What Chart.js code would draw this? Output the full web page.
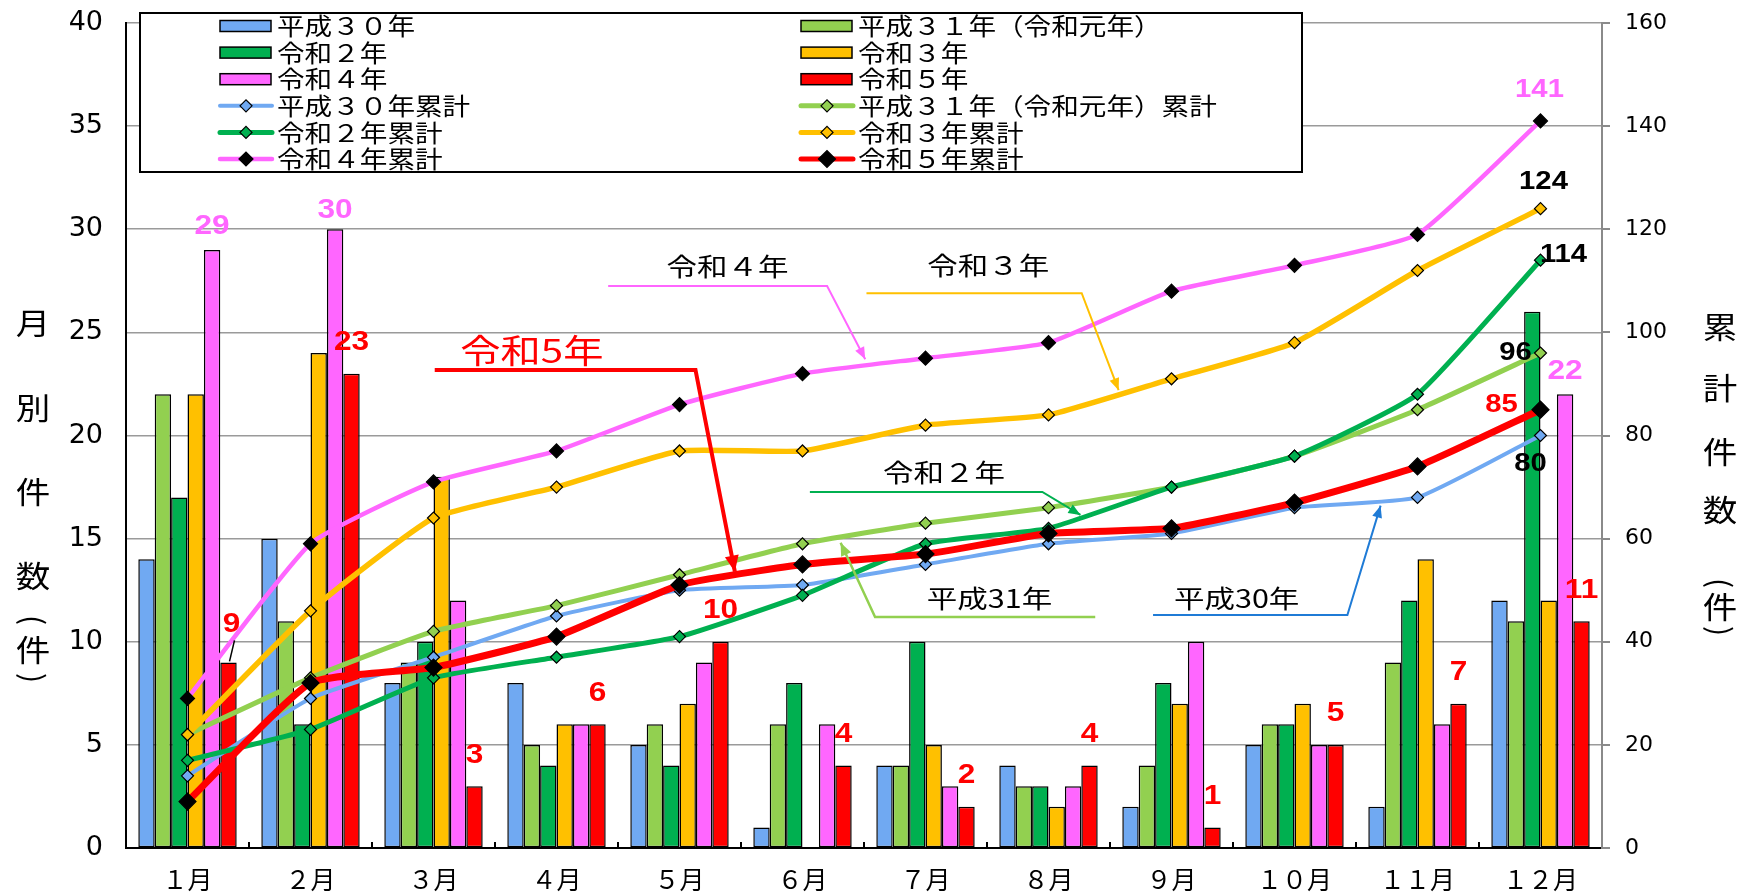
<!DOCTYPE html>
<html lang="ja">
<head>
<meta charset="utf-8">
<title>月別件数・累計件数</title>
<script src="https://cdn.jsdelivr.net/npm/chart.js@4.4.1/dist/chart.umd.min.js"></script>
<style>
  html, body { margin: 0; padding: 0; background: #fff; }
  #wrap { width: 1744px; height: 893px; position: relative; }
</style>
</head>
<body>
<div id="wrap"><canvas id="chart"></canvas></div>
<script>
/* =============================================
   月別件数（棒）と累計件数（折れ線）
   ============================================= */

const months = ['１月', '２月', '３月', '４月', '５月', '６月', '７月', '８月', '９月', '１０月', '１１月', '１２月'];

// 月別件数（左軸）
const h30 = [14, 15, 8, 8, 5, 1, 4, 4, 2, 5, 2, 12];
const h31 = [22, 11, 9, 5, 6, 6, 4, 3, 4, 6, 9, 11];
const r2  = [17, 6, 10, 4, 4, 8, 10, 3, 8, 6, 12, 26];
const r3  = [22, 24, 18, 6, 7, 0, 5, 2, 7, 7, 14, 12];
const r4  = [29, 30, 12, 6, 9, 6, 3, 3, 10, 5, 6, 22];
const r5  = [9, 23, 3, 6, 10, 4, 2, 4, 1, 5, 7, 11];

// 累計件数（右軸）
const h30Cum = [14, 29, 37, 45, 50, 51, 55, 59, 61, 66, 68, 80];
const h31Cum = [22, 33, 42, 47, 53, 59, 63, 66, 70, 76, 85, 96];
const r2Cum  = [17, 23, 33, 37, 41, 49, 59, 62, 70, 76, 88, 114];
const r3Cum  = [22, 46, 64, 70, 77, 77, 82, 84, 91, 98, 112, 124];
const r4Cum  = [29, 59, 71, 77, 86, 92, 95, 98, 108, 113, 119, 141];
const r5Cum  = [9, 32, 35, 41, 51, 55, 57, 61, 62, 67, 74, 85];

const barNames = ['平成３０年', '平成３１年（令和元年）', '令和２年', '令和３年', '令和４年', '令和５年'];
const cumNames = ['平成３０年累計', '平成３１年（令和元年）累計', '令和２年累計', '令和３年累計', '令和４年累計', '令和５年累計'];

// colours
const C = {
  h30: '#70a9f2',
  h31: '#92d050',
  r2: '#00b050',
  r3: '#ffc000',
  r4: '#ff66ff',
  r5: '#ff0000'
};

const CJK = "'Noto Sans CJK JP', 'Noto Sans CJK SC', sans-serif";
const NUM = "'Liberation Sans', Arial, sans-serif";

// callouts: position in (category index, left-axis value)
const callouts = [
  { text: '令和４年', at: [4.39, 28.2], color: C.r4, width: 2, path: [[3.42, 27.25], [5.20, 27.25], [5.51, 23.7]] },
  { text: '令和３年', at: [6.51, 28.25], color: C.r3, width: 2, path: [[5.52, 26.9], [7.27, 26.9], [7.57, 22.2]] },
  { text: '令和5年', at: [2.80, 24.1], color: C.r5, width: 4, textColor: C.r5, size: 33, path: [[2.01, 23.18], [4.13, 23.18], [4.45, 13.4]] },
  { text: '令和２年', at: [6.15, 18.2], color: C.r2, width: 2, path: [[5.06, 17.26], [6.95, 17.26], [7.26, 16.15]] },
  { text: '平成31年', at: [6.52, 12.12], color: C.h31, width: 2.5, path: [[7.38, 11.2], [5.59, 11.2], [5.31, 14.8]] },
  { text: '平成30年', at: [8.53, 12.12], color: '#1f7bd6', width: 2, path: [[7.85, 11.3], [9.43, 11.3], [9.70, 16.6]] }
];

// ---------- helpers ----------
function drawText(ctx, str, x, y, o) {
  ctx.save();
  ctx.font = o.font;
  ctx.fillStyle = o.color || '#000';
  ctx.textAlign = o.align || 'center';
  ctx.textBaseline = 'middle';
  ctx.translate(x, y);
  ctx.scale(o.sx || 1, 1);
  if (o.rotate) ctx.rotate(o.rotate);
  ctx.fillText(str, 0, 0);
  ctx.restore();
}

function diamond(ctx, x, y, r, fill) {
  ctx.beginPath();
  ctx.moveTo(x - r, y);
  ctx.lineTo(x, y - r);
  ctx.lineTo(x + r, y);
  ctx.lineTo(x, y + r);
  ctx.closePath();
  ctx.fillStyle = fill;
  ctx.fill();
  ctx.strokeStyle = '#000';
  ctx.lineWidth = 1.2;
  ctx.stroke();
}

function arrow(ctx, pts, color, width) {
  ctx.save();
  ctx.strokeStyle = color;
  ctx.fillStyle = color;
  ctx.lineWidth = width;
  ctx.lineJoin = 'miter';
  ctx.beginPath();
  pts.forEach((p, i) => i ? ctx.lineTo(p[0], p[1]) : ctx.moveTo(p[0], p[1]));
  ctx.stroke();
  const [x1, y1] = pts[pts.length - 2];
  const [x2, y2] = pts[pts.length - 1];
  const a = Math.atan2(y2 - y1, x2 - x1);
  const len = 8 + width * 2, hw = 3 + width;
  ctx.beginPath();
  ctx.moveTo(x2, y2);
  ctx.lineTo(x2 - len * Math.cos(a) + hw * Math.sin(a), y2 - len * Math.sin(a) - hw * Math.cos(a));
  ctx.lineTo(x2 - len * Math.cos(a) - hw * Math.sin(a), y2 - len * Math.sin(a) + hw * Math.cos(a));
  ctx.closePath();
  ctx.fill();
  ctx.restore();
}

// ---------- plugins ----------
const boxLegend = {
  id: 'boxLegend',
  afterDatasetsDraw(chart) {
    const { ctx, chartArea } = chart;
    const left = chartArea.left + 14, top = chartArea.top - 10;
    const right = chartArea.right - 300, bottom = top + 159;
    ctx.save();
    ctx.fillStyle = '#fff';
    ctx.fillRect(left, top, right - left, bottom - top);
    ctx.strokeStyle = '#000';
    ctx.lineWidth = 2;
    ctx.strokeRect(left, top, right - left, bottom - top);
    chart.data.datasets.forEach((ds, i) => {
      const col = i % 2, row = Math.floor(i / 2);
      const sx = col === 0 ? left + 80 : left + 661;
      const cy = top + 13 + row * 26.6;
      if (ds.type === 'bar') {
        ctx.fillStyle = ds.backgroundColor;
        ctx.fillRect(sx, cy - 5.5, 51, 11);
        ctx.strokeStyle = '#000';
        ctx.lineWidth = 1.5;
        ctx.strokeRect(sx, cy - 5.5, 51, 11);
      } else {
        ctx.strokeStyle = ds.borderColor;
        ctx.lineWidth = Math.min(ds.borderWidth, 5);
        ctx.lineCap = 'round';
        ctx.beginPath();
        ctx.moveTo(sx, cy);
        ctx.lineTo(sx + 52, cy);
        ctx.stroke();
        diamond(ctx, sx + 26, cy, ds.pointRadius, ds.pointBackgroundColor);
      }
      drawText(ctx, ds.label, sx + 57, cy, { font: `24px ${CJK}`, align: 'left', sx: 1.15 });
    });
    ctx.restore();
  }
};

const valueLabels = {
  id: 'valueLabels',
  afterDatasetsDraw(chart) {
    const { ctx } = chart;
    chart.data.datasets.forEach((ds, i) => {
      if (!ds.valueLabels) return;
      const meta = chart.getDatasetMeta(i);
      ds.valueLabels.forEach(l => {
        const el = meta.data[l.index];
        const tx = el.x + (l.dx || 0), ty = el.y + l.dy;
        if (l.leader) {
          ctx.save();
          ctx.strokeStyle = '#000';
          ctx.lineWidth = 1.5;
          ctx.beginPath();
          ctx.moveTo(tx + 3, ty + 16);
          ctx.lineTo(el.x + 1, el.y - 1);
          ctx.stroke();
          ctx.restore();
        }
        drawText(ctx, String(ds.data[l.index]), tx, ty, {
          font: `bold ${l.size || 27}px ${NUM}`, color: l.color || ds.labelColor, sx: 1.17
        });
      });
    });
  }
};

const calloutPlugin = {
  id: 'callouts',
  afterDatasetsDraw(chart) {
    const { ctx, scales } = chart;
    const px = p => [scales.x.getPixelForValue(p[0]), scales.y.getPixelForValue(p[1])];
    callouts.forEach(c => {
      arrow(ctx, c.path.map(px), c.color, c.width);
      const [tx, ty] = px(c.at);
      drawText(ctx, c.text, tx, ty, { font: `${c.size || 25}px ${CJK}`, color: c.textColor || '#000', sx: 1.22 });
    });
  }
};

const axisDecor = {
  id: 'axisDecor',
  afterDraw(chart) {
    const { ctx, chartArea, scales } = chart;
    // ticks between months, pointing up
    ctx.save();
    ctx.strokeStyle = '#000';
    ctx.lineWidth = 2;
    for (let i = 1; i < months.length; i++) {
      const bx = (scales.x.getPixelForValue(i - 1) + scales.x.getPixelForValue(i)) / 2;
      ctx.beginPath();
      ctx.moveTo(bx, chartArea.bottom);
      ctx.lineTo(bx, chartArea.bottom - 6);
      ctx.stroke();
    }
    ctx.restore();

    // vertical axis titles
    const leftTitle = [['月', 323], ['別', 408], ['件', 492], ['数', 576], ['(', 620, 1], ['件', 650], [')', 678, 1]];
    const rightTitle = [['累', 327], ['計', 388], ['件', 452], ['数', 510], ['(', 583, 1], ['件', 607], [')', 631, 1]];
    const put = (list, x) => list.forEach(([ch, y, rot]) => {
      drawText(ctx, ch, x, y, { font: `30px ${CJK}`, sx: rot ? 1 : 1.15, rotate: rot ? Math.PI / 2 : 0 });
    });
    put(leftTitle, 33);
    put(rightTitle, 1720);
  }
};

// ---------- chart ----------
function buildChart() {
  Chart.defaults.font.family = CJK;
  Chart.defaults.color = '#000';

  const redLabels = months.map((m, i) => i === 0 ? { index: i, dy: -38, dx: 3, leader: true } : { index: i, dy: -31 });

  const bar = (label, data, color, extra) => Object.assign({
    type: 'bar',
    label,
    data,
    yAxisID: 'y',
    backgroundColor: color,
    borderColor: '#000',
    borderWidth: 1.5,
    borderSkipped: false,
    categoryPercentage: 0.8,
    barPercentage: 1.0,
    order: 20
  }, extra || {});

  const line = (label, data, color, width, pr, pfill, order, extra) => Object.assign({
    type: 'line',
    label,
    data,
    yAxisID: 'y2',
    borderColor: color,
    borderWidth: width,
    pointStyle: 'rectRot',
    pointRadius: pr,
    pointBackgroundColor: pfill,
    pointBorderColor: '#000',
    pointBorderWidth: 1.2,
    tension: 0.15,
    fill: false,
    order
  }, extra || {});

  new Chart(document.getElementById('chart'), {
    type: 'bar',
    data: {
      labels: months,
      datasets: [
        bar(barNames[0], h30, C.h30),
        bar(barNames[1], h31, C.h31),
        bar(barNames[2], r2, C.r2),
        bar(barNames[3], r3, C.r3),
        bar(barNames[4], r4, C.r4, {
          labelColor: C.r4,
          valueLabels: [{ index: 0, dy: -23 }, { index: 1, dy: -19 }, { index: 11, dy: -23 }]
        }),
        bar(barNames[5], r5, C.r5, { labelColor: C.r5, valueLabels: redLabels }),
        line(cumNames[0], h30Cum, C.h30, 4, 6, C.h30, 6,
          { valueLabels: [{ index: 11, dx: -10, dy: 29, size: 25, color: '#000' }] }),
        line(cumNames[1], h31Cum, C.h31, 5, 6, C.h31, 5,
          { valueLabels: [{ index: 11, dx: -25, dy: 0, size: 25, color: '#000' }] }),
        line(cumNames[2], r2Cum, C.r2, 5, 6, C.r2, 4,
          { valueLabels: [{ index: 11, dx: 23, dy: -5, size: 25, color: '#000' }] }),
        line(cumNames[3], r3Cum, C.r3, 5.5, 6, C.r3, 3,
          { valueLabels: [{ index: 11, dx: 3, dy: -27, size: 25, color: '#000' }] }),
        line(cumNames[4], r4Cum, C.r4, 4.5, 7, '#000', 2,
          { valueLabels: [{ index: 11, dx: -1, dy: -31, size: 25, color: C.r4 }] }),
        line(cumNames[5], r5Cum, C.r5, 7, 8.5, '#000', 1,
          { valueLabels: [{ index: 11, dx: -39, dy: -5, size: 25, color: C.r5 }] })
      ]
    },
    options: {
      responsive: true,
      maintainAspectRatio: false,
      animation: false,
      layout: { padding: { top: 23, left: 0, right: 0, bottom: 0 } },
      plugins: {
        legend: { display: false },
        tooltip: { enabled: false }
      },
      scales: {
        x: {
          offset: true,
          grid: { display: false, drawTicks: false },
          border: { display: true, color: '#000', width: 2 },
          ticks: { font: { family: CJK, size: 25 }, color: '#000', padding: 16, maxRotation: 0 },
          afterFit(s) { s.height = 45; }
        },
        y: {
          position: 'left',
          min: 0,
          max: 40,
          ticks: { stepSize: 5, font: { family: "'DejaVu Sans', sans-serif", size: 27 }, color: '#000', padding: 23 },
          grid: {
            color: ctx => ctx.tick && ctx.tick.value === 0 ? 'rgba(0,0,0,0)' : '#9a9a9a',
            lineWidth: 1.6,
            drawTicks: false
          },
          border: { display: true, color: '#000', width: 2 },
          afterFit(s) { s.width = 126; s.paddingTop = 0; s.paddingBottom = 0; }
        },
        y2: {
          position: 'right',
          min: 0,
          max: 160,
          ticks: { stepSize: 20, font: { family: "'DejaVu Sans', sans-serif", size: 22 }, color: '#000', padding: 15 },
          grid: { drawOnChartArea: false, drawTicks: true, tickLength: 8, color: '#8a8a8a', lineWidth: 2 },
          border: { display: true, color: '#8a8a8a', width: 2 },
          afterFit(s) { s.width = 142; s.paddingTop = 0; s.paddingBottom = 0; }
        }
      }
    },
    plugins: [valueLabels, calloutPlugin, boxLegend, axisDecor]
  });
}

Promise.all([
  document.fonts.load(`24px ${CJK}`),
  document.fonts.load(`bold 26px ${NUM}`),
  document.fonts.load("26px 'DejaVu Sans'")
]).catch(() => {}).then(buildChart);
</script>
</body>
</html>
